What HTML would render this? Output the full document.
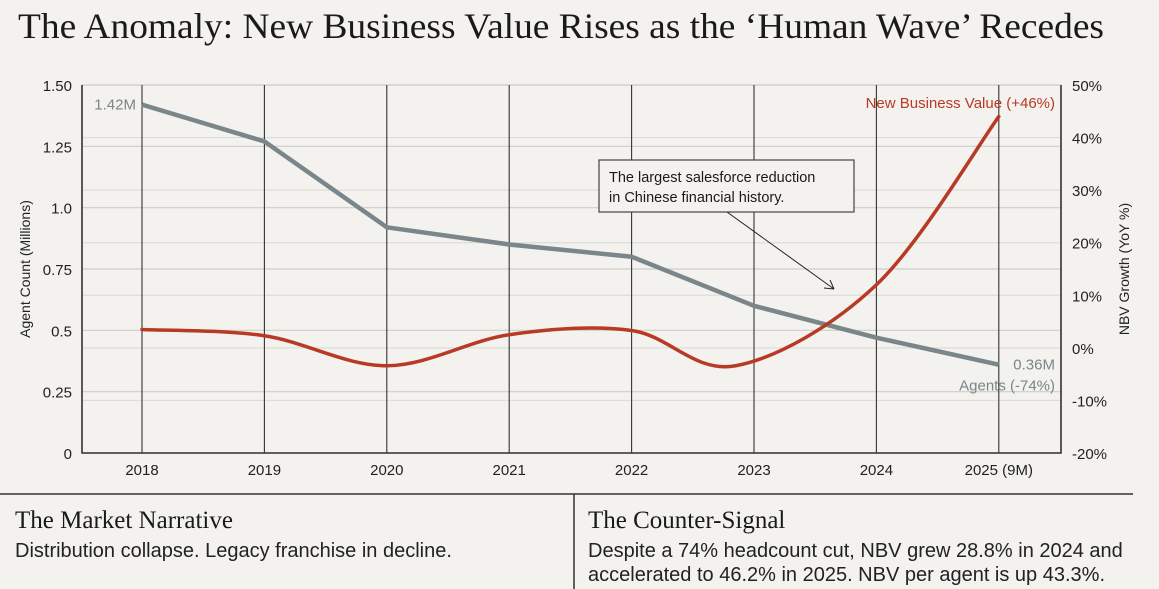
<!DOCTYPE html>
<html><head><meta charset="utf-8"><style>
html,body{margin:0;padding:0;background:#f3f2ee;}
body{width:1159px;height:589px;overflow:hidden;position:relative;}
svg{position:absolute;left:0;top:0;}
.sans{font-family:"Liberation Sans",sans-serif;}
.serif{font-family:"Liberation Serif",serif;}
</style></head><body>
<svg id="c" width="1159" height="589" viewBox="0 0 1159 589">
<text x="18" y="38" class="serif" font-size="36" fill="#1a1a1a" textLength="1086" lengthAdjust="spacingAndGlyphs">The Anomaly: New Business Value Rises as the ‘Human Wave’ Recedes</text>
<g id="grid"></g>
<g id="axes"></g>
<g id="series"></g>
<g id="labels"></g>
<line x1="0" y1="494" x2="1133" y2="494" stroke="#333" stroke-width="1.5"/>
<line x1="574" y1="494" x2="574" y2="589" stroke="#333" stroke-width="1.5"/>
<text x="15" y="528" class="serif" font-size="25" fill="#1a1a1a">The Market Narrative</text>
<text x="15" y="557" class="sans" font-size="20" fill="#222">Distribution collapse. Legacy franchise in decline.</text>
<text x="588" y="528" class="serif" font-size="25" fill="#1a1a1a">The Counter-Signal</text>
<text x="588" y="557" class="sans" font-size="20" fill="#222">Despite a 74% headcount cut, NBV grew 28.8% in 2024 and</text>
<text x="588" y="581" class="sans" font-size="20" fill="#222">accelerated to 46.2% in 2025. NBV per agent is up 43.3%.</text>
</svg>
<script>
const years=["2018","2019","2020","2021","2022","2023","2024","2025 (9M)"];
const agents=[1.42,1.27,0.92,0.85,0.80,0.60,0.47,0.36];
const nbvPoints=[[0,3.5],[1,2.3],[2,-3.4],[3,2.5],[4,3.3],[4.85,-3.4],[6,12],[7,44]];
const leftTicks=[0,0.25,0.5,0.75,1.0,1.25,1.5];
const leftTickLabels=["0","0.25","0.5","0.75","1.0","1.25","1.50"];
const rightTicks=[-20,-10,0,10,20,30,40,50];
const ns="http://www.w3.org/2000/svg";
const X0=82,X1=1061,Y0=453,Y1=85;
const x=i=>142+i*122.4;
const yL=v=>Y0-(v/1.5)*(Y0-Y1);
const yR=v=>Y0-((v+20)/70)*(Y0-Y1);
function mk(p,tag,a,t){const e=document.createElementNS(ns,tag);for(const k in a)e.setAttribute(k,a[k]);if(t!=null)e.textContent=t;p.appendChild(e);return e;}
const grid=document.getElementById('grid'),axes=document.getElementById('axes'),series=document.getElementById('series'),labels=document.getElementById('labels');
rightTicks.forEach(v=>{const l=mk(grid,'line',{x1:X0,x2:X1,y1:yR(v),y2:yR(v),stroke:'#dedcd6','stroke-width':1.2});


const t=mk(axes,'text',{x:1072,y:yR(v)+6,'font-size':15,fill:'#222',class:'sans'},v+'%');

});
leftTicks.forEach((v,i)=>{const l=mk(grid,'line',{x1:X0,x2:X1,y1:yL(v),y2:yL(v),stroke:'#cfcdc6','stroke-width':1.2});


const t=mk(axes,'text',{x:72,y:yL(v)+6,'font-size':15,fill:'#222','text-anchor':'end',class:'sans'},leftTickLabels[i]);

});
years.forEach((yr,i)=>{const l=mk(grid,'line',{x1:x(i),x2:x(i),y1:Y1,y2:Y0,stroke:'#333','stroke-width':1.1});


const t=mk(axes,'text',{x:x(i),y:475,'font-size':15,fill:'#222','text-anchor':'middle',class:'sans'},yr);

});
const ax=mk(axes,'path',{d:`M${X0} ${Y1}V${Y0}H${X1}V${Y1}`,fill:'none',stroke:'#333','stroke-width':1.6});


const yt=mk(axes,'text',{transform:'translate(30,269) rotate(-90)','font-size':14,fill:'#222','text-anchor':'middle',class:'sans'},'Agent Count (Millions)');


const yt2=mk(axes,'text',{transform:'translate(1129,269) rotate(-90)','font-size':14,fill:'#222','text-anchor':'middle',class:'sans'},'NBV Growth (YoY %)');


const ag=mk(series,'polyline',{points:agents.map((v,i)=>x(i)+','+yL(v)).join(' '),fill:'none',stroke:'#7a8689','stroke-width':4.5,'stroke-linejoin':'round'});


const P=nbvPoints.map(p=>[x(p[0]),yR(p[1])]);
let d=`M${P[0][0]} ${P[0][1]}`;
for(let i=0;i<P.length-1;i++){const p0=P[Math.max(0,i-1)],p1=P[i],p2=P[i+1],p3=P[Math.min(P.length-1,i+2)];
const c1=[p1[0]+(p2[0]-p0[0])/6,p1[1]+(p2[1]-p0[1])/6],c2=[p2[0]-(p3[0]-p1[0])/6,p2[1]-(p3[1]-p1[1])/6];
d+=` C${c1[0]} ${c1[1]} ${c2[0]} ${c2[1]} ${p2[0]} ${p2[1]}`;}
const nb=mk(series,'path',{d:d,fill:'none',stroke:'#b83a26','stroke-width':3.5,'stroke-linecap':'round'});


const l1=mk(labels,'text',{x:x(0)-6,y:yL(agents[0])+5,'font-size':15,fill:'#7a8689','text-anchor':'end',class:'sans'},agents[0].toFixed(2)+'M');


const l2=mk(labels,'text',{x:1055,y:yL(agents[7])+5,'font-size':15,fill:'#7a8689','text-anchor':'end',class:'sans'},agents[7].toFixed(2)+'M');


const l3=mk(labels,'text',{x:1055,y:yL(agents[7])+26,'font-size':15,fill:'#7a8689','text-anchor':'end',class:'sans'},'Agents (-74%)');


const l4=mk(labels,'text',{x:1055,y:108,'font-size':15,fill:'#b83a26','text-anchor':'end',class:'sans'},'New Business Value (+46%)');


const box=mk(labels,'rect',{x:599,y:160,width:255,height:52,fill:'#f3f2ee',stroke:'#444','stroke-width':1.2});


const a1=mk(labels,'text',{x:609,y:182,'font-size':14.5,fill:'#1a1a1a',class:'sans'},'The largest salesforce reduction');


const a2=mk(labels,'text',{x:609,y:202,'font-size':14.5,fill:'#1a1a1a',class:'sans'},'in Chinese financial history.');


const ar=mk(labels,'path',{d:'M727 212 L834 289 M834 289 L824 288 M834 289 L830 280',fill:'none',stroke:'#222','stroke-width':1});


</script>
</body></html>
